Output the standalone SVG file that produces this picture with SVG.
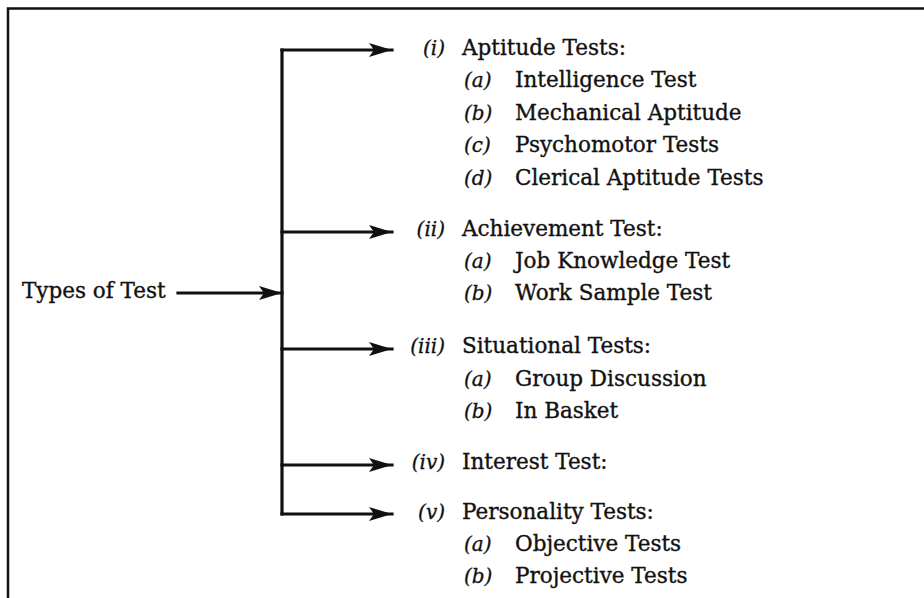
<svg xmlns="http://www.w3.org/2000/svg" width="924" height="598" viewBox="0 0 924 598">
  <style>
    .t { font-family: "DejaVu Serif", "Liberation Serif", serif; font-size: 21.5px; fill: #111; stroke: #111; stroke-width: 0.35; }
    .n { font-family: "DejaVu Serif", "Liberation Serif", serif; font-size: 20px; font-style: italic; fill: #111; stroke: #111; stroke-width: 0.3; }
    .ln { stroke: #111; stroke-width: 3.2; fill: none; stroke-linecap: square; }
    .fr { stroke: #111; stroke-width: 2.5; fill: none; }
  </style>
  <defs>
    <marker id="ah" markerUnits="userSpaceOnUse" markerWidth="26" markerHeight="18" refX="23" refY="9" orient="auto">
      <path d="M0,2 L23,9 L0,16 L5,9 Z" fill="#111"/>
    </marker>
  </defs>
  <rect width="924" height="598" fill="#fff"/>

  <!-- page frame (top and left edges) -->
  <path class="fr" d="M8,598 L8,8.5 L924,8.5"/>

  <!-- connectors -->
  <g id="connectors">
    <path class="ln" d="M282,50 L282,514"/>
    <path class="ln" d="M178,293 L282,293" marker-end="url(#ah)"/>
    <path class="ln" d="M282,50 L392,50" marker-end="url(#ah)"/>
    <path class="ln" d="M282,232 L392,232" marker-end="url(#ah)"/>
    <path class="ln" d="M282,349 L392,349" marker-end="url(#ah)"/>
    <path class="ln" d="M282,465 L392,465" marker-end="url(#ah)"/>
    <path class="ln" d="M282,514 L392,514" marker-end="url(#ah)"/>
  </g>

  <g id="root">
    <text class="t" x="22" y="298">Types of Test</text>
  </g>

  <g id="aptitude">
    <text class="n" x="445" y="55" text-anchor="end">(i)</text>
    <text class="t" x="462" y="55">Aptitude Tests:</text>
    <text class="n" x="464" y="87">(a)</text><text class="t" x="515" y="87">Intelligence Test</text>
    <text class="n" x="464" y="120">(b)</text><text class="t" x="515" y="120">Mechanical Aptitude</text>
    <text class="n" x="464" y="152">(c)</text><text class="t" x="515" y="152">Psychomotor Tests</text>
    <text class="n" x="464" y="185">(d)</text><text class="t" x="515" y="185">Clerical Aptitude Tests</text>
  </g>

  <g id="achievement">
    <text class="n" x="445" y="236" text-anchor="end">(ii)</text>
    <text class="t" x="462" y="236">Achievement Test:</text>
    <text class="n" x="464" y="268">(a)</text><text class="t" x="515" y="268">Job Knowledge Test</text>
    <text class="n" x="464" y="300">(b)</text><text class="t" x="515" y="300">Work Sample Test</text>
  </g>

  <g id="situational">
    <text class="n" x="445" y="353" text-anchor="end">(iii)</text>
    <text class="t" x="462" y="353">Situational Tests:</text>
    <text class="n" x="464" y="386">(a)</text><text class="t" x="515" y="386">Group Discussion</text>
    <text class="n" x="464" y="418">(b)</text><text class="t" x="515" y="418">In Basket</text>
  </g>

  <g id="interest">
    <text class="n" x="445" y="469" text-anchor="end">(iv)</text>
    <text class="t" x="462" y="469">Interest Test:</text>
  </g>

  <g id="personality">
    <text class="n" x="445" y="519" text-anchor="end">(v)</text>
    <text class="t" x="462" y="519">Personality Tests:</text>
    <text class="n" x="464" y="551">(a)</text><text class="t" x="515" y="551">Objective Tests</text>
    <text class="n" x="464" y="583">(b)</text><text class="t" x="515" y="583">Projective Tests</text>
  </g>
</svg>
